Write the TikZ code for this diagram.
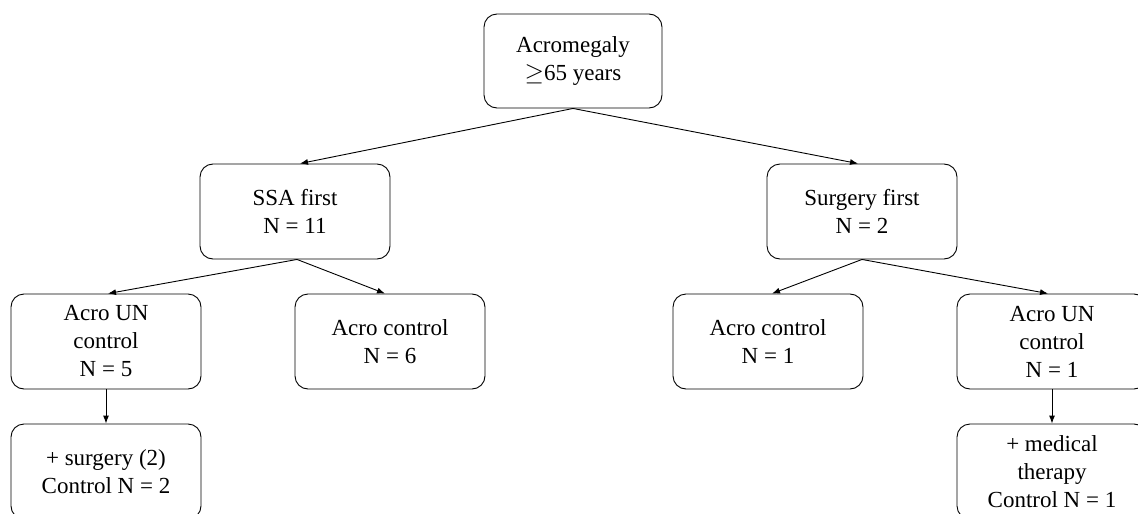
\documentclass[tikz,border=0pt]{standalone}
\usepackage{fontspec}
\setmainfont{Liberation Serif}
\usetikzlibrary{arrows.meta}
\begin{document}
\begin{tikzpicture}[x=1pt,y=-1pt,
  box/.style={draw, line width=0.9pt, rounded corners=13pt, minimum width=190pt, minimum height=95pt,
    align=center, font=\fontsize{23}{28}\selectfont, inner sep=2pt},
  conn/.style={line width=0.9pt, -{Latex[length=8pt,width=6pt]}}]
\useasboundingbox[fill=white] (0,0) rectangle (1138,514);
\node[box, minimum width=178pt, minimum height=94pt] (top) at (573,61) {Acromegaly\\$\geq$65 years};
\node[box] (ssa) at (295,211.5) {SSA first\\N = 11};
\node[box] (surg) at (862,211.5) {Surgery first\\N = 2};
\node[box] (un1) at (106,341.5) {Acro UN\\control\\N = 5};
\node[box] (c6) at (390,341.5) {Acro control\\N = 6};
\node[box] (c1) at (768,341.5) {Acro control\\N = 1};
\node[box] (un2) at (1052,341.5) {Acro UN\\control\\N = 1};
\node[box] (s2) at (106,471.5) {+ surgery (2)\\Control N = 2};
\node[box] (m1) at (1052,471.5) {+ medical\\therapy\\Control N = 1};
\draw[conn] (top.south) -- ([xshift=5pt]ssa.north);
\draw[conn] (top.south) -- ([xshift=-4pt]surg.north);
\draw[conn] ([xshift=2pt]ssa.south) -- ([xshift=2pt]un1.north);
\draw[conn] ([xshift=2pt]ssa.south) -- ([xshift=-5pt]c6.north);
\draw[conn] (surg.south) -- ([xshift=4pt]c1.north);
\draw[conn] (surg.south) -- ([xshift=-4pt]un2.north);
\draw[conn] (un1.south) -- (s2.north);
\draw[conn] (un2.south) -- (m1.north);
\end{tikzpicture}
\end{document}
